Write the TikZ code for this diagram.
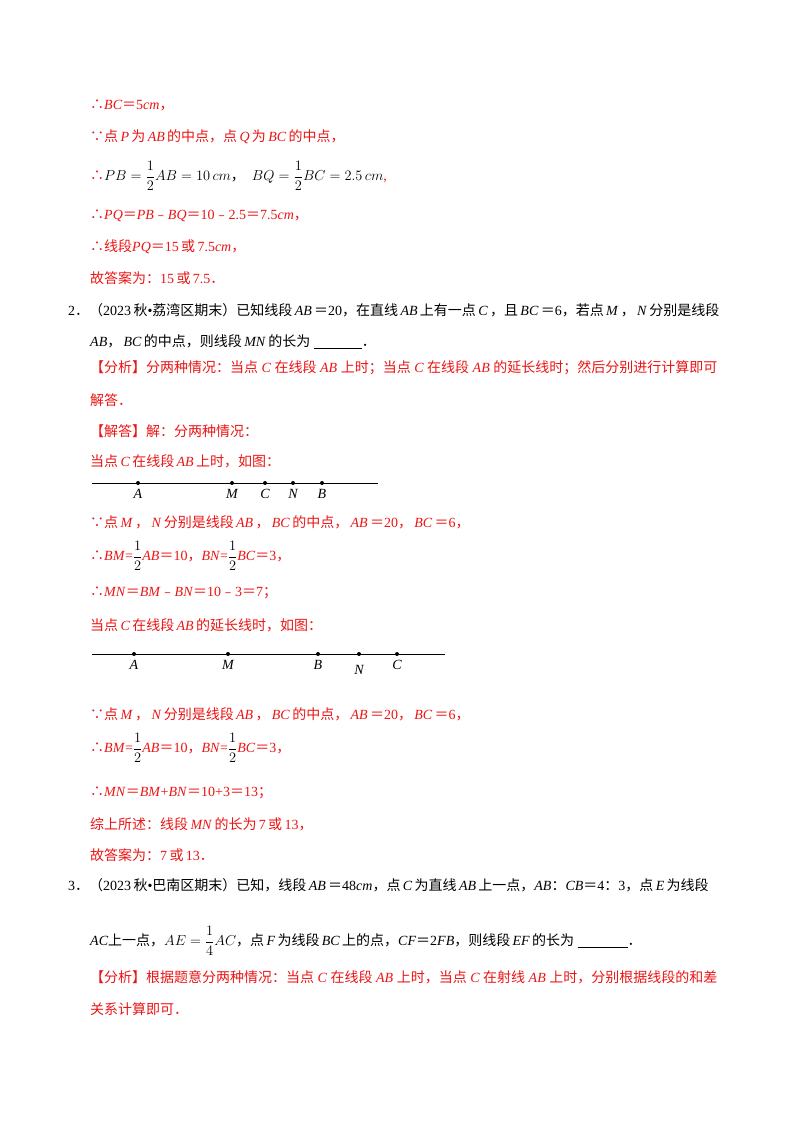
\documentclass[tikz,border=0pt]{standalone}
\usepackage{amsmath}
\usepackage{fontspec}
\setmainfont{Liberation Serif}
\newfontfamily\cjk{Noto Sans CJK SC}
\definecolor{rd}{RGB}{235,20,20}
\newcommand{\z}[1]{{\cjk #1}}
\newcommand{\iv}[1]{\,\textit{#1}\,}
\newcommand{\dt}{{\rmfamily •}}
\begin{document}
\begin{tikzpicture}[x=1pt,y=-1pt,
  t/.style={anchor=west,inner sep=0pt,font=\fontsize{14}{16}\selectfont},
  r/.style={t,text=rd},
  pt/.style={circle,fill=black,inner sep=0pt,minimum size=4pt},
  lb/.style={inner sep=0pt,font=\fontsize{14}{16}\selectfont\itshape}]
\useasboundingbox (0,0) rectangle (800,1132);
\node[r] (l1) at (90,105) {\z{∴}\textit{BC}\z{＝}5\textit{cm}\z{，}};
\node[r] (l2) at (90,137) {\z{∵点}\iv{P}\z{为}\iv{AB}\z{的中点，点}\iv{Q}\z{为}\iv{BC}\z{的中点，}};
\node[t] (l3) at (90,176) {\textcolor{rd}{\z{∴}}$PB=\dfrac12AB=10\,cm$\z{，}\ \ $BQ=\dfrac12BC=2.5\,cm$\textcolor{rd}{,}};
\node[r] (l4) at (90,216) {\z{∴}\textit{PQ}\z{＝}\textit{PB}\z{﹣}\textit{BQ}\z{＝}10\z{﹣}2.5\z{＝}7.5\textit{cm}\z{，}};
\node[r] (l5) at (90,247) {\z{∴线段}\textit{PQ}\z{＝}15\,\z{或}\,7.5\textit{cm}\z{，}};
\node[r] (l6) at (90,278) {\z{故答案为：}15\,\z{或}\,7.5\z{．}};
\node[t] (q2) at (68,310) {2\z{．（}2023\,\z{秋}\dt\z{荔湾区期末）已知线段}\iv{AB}\z{＝}20\z{，在直线}\iv{AB}\z{上有一点}\iv{C}\z{，且}\iv{BC}\z{＝}6\z{，若点}\iv{M}\z{，}\iv{N}\z{分别是线段}};
\node[t] (q2b) at (90,342) {\textit{AB}\z{，}\iv{BC}\z{的中点，则线段}\iv{MN}\z{的长为}\ \underline{\hspace{48pt}}\z{．}};
\node[r] (a1) at (90,368) {\z{【分析】分两种情况：当点}\ \textit{C}\ \z{在线段}\ \textit{AB}\ \z{上时；当点}\ \textit{C}\ \z{在线段}\ \textit{AB}\ \z{的延长线时；然后分别进行计算即可}};
\node[r] (a2) at (90,400) {\z{解答．}};
\node[r] (a3) at (90,431) {\z{【解答】解：分两种情况：}};
\node[r] (a4) at (90,461) {\z{当点}\iv{C}\z{在线段}\iv{AB}\z{上时，如图：}};
\coordinate (s1) at (92,483); \coordinate (e1) at (378,483);
\draw (s1) -- (e1);
\foreach \n/\x in {A/138,M/232,C/265,N/293,B/322}{
  \node[pt] (p1\n) at (\x,483) {};
  \node[lb] at ([yshift=-11pt]p1\n) {\n};}
\node[r] (b1) at (90,522) {\z{∵点}\iv{M}\z{，}\iv{N}\z{分别是线段}\iv{AB}\z{，}\iv{BC}\z{的中点，}\iv{AB}\z{＝}20\z{，}\iv{BC}\z{＝}6\z{，}};
\node[r] (b2) at (90,556) {\z{∴}\textit{BM}=\textcolor{black}{$\dfrac12$}\textit{AB}\z{＝}10\z{，}\textit{BN}=\textcolor{black}{$\dfrac12$}\textit{BC}\z{＝}3\z{，}};
\node[r] (b3) at (90,593) {\z{∴}\textit{MN}\z{＝}\textit{BM}\z{﹣}\textit{BN}\z{＝}10\z{﹣}3\z{＝}7\z{；}};
\node[r] (b4) at (90,625) {\z{当点}\iv{C}\z{在线段}\iv{AB}\z{的延长线时，如图：}};
\coordinate (s2) at (92,654); \coordinate (e2) at (445,654);
\draw (s2) -- (e2);
\foreach \n/\x/\d in {A/134/11,M/228/11,B/318/11,N/359/16,C/397/11}{
  \node[pt] (p2\n) at (\x,654) {};
  \node[lb] at ([yshift=-\d pt]p2\n) {\n};}
\node[r] (c1) at (90,714) {\z{∵点}\iv{M}\z{，}\iv{N}\z{分别是线段}\iv{AB}\z{，}\iv{BC}\z{的中点，}\iv{AB}\z{＝}20\z{，}\iv{BC}\z{＝}6\z{，}};
\node[r] (c2) at (90,748) {\z{∴}\textit{BM}=\textcolor{black}{$\dfrac12$}\textit{AB}\z{＝}10\z{，}\textit{BN}=\textcolor{black}{$\dfrac12$}\textit{BC}\z{＝}3\z{，}};
\node[r] (c3) at (90,793) {\z{∴}\textit{MN}\z{＝}\textit{BM}+\textit{BN}\z{＝}10+3\z{＝}13\z{；}};
\node[r] (c4) at (90,824) {\z{综上所述：线段}\iv{MN}\z{的长为}\,7\,\z{或}\,13\z{，}};
\node[r] (c5) at (90,855) {\z{故答案为：}7\,\z{或}\,13\z{．}};
\node[t] (q3) at (68,885) {3\z{．（}2023\,\z{秋}\dt\z{巴南区期末）已知，线段}\iv{AB}\z{＝}48\textit{cm}\z{，点}\iv{C}\z{为直线}\iv{AB}\z{上一点，}\textit{AB}\z{：}\textit{CB}\z{＝}4\z{：}3\z{，点}\iv{E}\z{为线段}};
\node[t] (q3b) at (90,941) {\textit{AC}\z{上一点，}$AE=\dfrac14AC$\z{，点}\iv{F}\z{为线段}\iv{BC}\z{上的点，}\textit{CF}\z{＝}2\textit{FB}\z{，则线段}\iv{EF}\z{的长为}\ \underline{\hspace{50pt}}\z{．}};
\node[r] (d1) at (90,977) {\z{【分析】根据题意分两种情况：当点}\ \textit{C}\ \z{在线段}\ \textit{AB}\ \z{上时，当点}\ \textit{C}\ \z{在射线}\ \textit{AB}\ \z{上时，分别根据线段的和差}};
\node[r] (d2) at (90,1009) {\z{关系计算即可．}};
\end{tikzpicture}
\end{document}
